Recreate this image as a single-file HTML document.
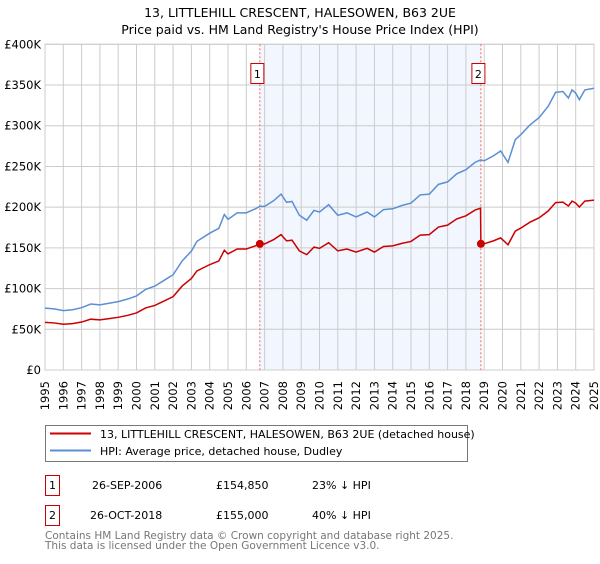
<!DOCTYPE html>
<html><head><meta charset="utf-8"><style>
body{margin:0;background:#fff;font-family:"DejaVu Sans","Liberation Sans",sans-serif;}
svg text{font-family:"DejaVu Sans","Liberation Sans",sans-serif;}
</style></head><body>
<svg id="c" width="600" height="560" viewBox="0 0 600 560">
<text x="300" y="17" text-anchor="middle" font-size="12.5">13, LITTLEHILL CRESCENT, HALESOWEN, B63 2UE</text>
<text x="300" y="34" text-anchor="middle" font-size="12.5">Price paid vs. HM Land Registry's House Price Index (HPI)</text>
<g id="plot"></g>
<g>
<rect x="45.5" y="425.5" width="422" height="36" fill="#fff" stroke="#777"/>
<line x1="50" y1="433.5" x2="91" y2="433.5" stroke="#cc0000" stroke-width="2"/>
<text x="100" y="438" font-size="11">13, LITTLEHILL CRESCENT, HALESOWEN, B63 2UE (detached house)</text>
<line x1="50" y1="450.5" x2="91" y2="450.5" stroke="#5b8fd4" stroke-width="2"/>
<text x="100" y="455" font-size="11">HPI: Average price, detached house, Dudley</text>
</g>
<g font-size="11">
<rect x="45.5" y="475.5" width="14" height="20" fill="none" stroke="#cc0000"/>
<text x="52.5" y="489" text-anchor="middle">1</text>
<text x="92" y="489">26-SEP-2006</text><text x="216" y="489">£154,850</text><text x="312" y="489">23% ↓ HPI</text>
<rect x="45.5" y="505.5" width="14" height="20" fill="none" stroke="#cc0000"/>
<text x="52.5" y="519" text-anchor="middle">2</text>
<text x="90" y="519">26-OCT-2018</text><text x="216" y="519">£155,000</text><text x="312" y="519">40% ↓ HPI</text>
</g>
<text x="45" y="539" font-size="10.5" fill="#777">Contains HM Land Registry data © Crown copyright and database right 2025.</text>
<text x="45" y="549" font-size="10.5" fill="#777">This data is licensed under the Open Government Licence v3.0.</text>
</svg>
<script>
const hpiT=[1995,1995.5,1996,1996.5,1997,1997.5,1998,1998.5,1999,1999.5,2000,2000.5,2001,2001.5,2002,2002.5,2003,2003.3,2004,2004.5,2004.8,2005,2005.5,2006,2006.5,2006.74,2007,2007.5,2007.9,2008.2,2008.5,2008.9,2009.3,2009.7,2010,2010.5,2011,2011.5,2012,2012.6,2013,2013.5,2014,2014.5,2015,2015.5,2016,2016.5,2017,2017.5,2018,2018.5,2018.8,2019,2019.5,2019.9,2020.3,2020.7,2021,2021.5,2022,2022.5,2022.9,2023.3,2023.6,2023.8,2024,2024.2,2024.5,2025];
const hpiV=[76,75,73,74,76.5,81,80,82,84,87,91,99,103,110,117,134,146,158,168,174,191,185,193,193,198,201,201,208,216,206,207,190,184,196,194,203,190,193,188,194,188,197,198,202,205,215,216,228,231,241,246,255,258,257,263,269,255,283,289,301,310,324,341,342,334,344,340,332,344,346];
const propT=[1995,1995.5,1996,1996.5,1997,1997.5,1998,1998.5,1999,1999.5,2000,2000.5,2001,2001.5,2002,2002.5,2003,2003.3,2004,2004.5,2004.8,2005,2005.5,2006,2006.5,2006.74,2007,2007.5,2007.9,2008.2,2008.5,2008.9,2009.3,2009.7,2010,2010.5,2011,2011.5,2012,2012.6,2013,2013.5,2014,2014.5,2015,2015.5,2016,2016.5,2017,2017.5,2018,2018.5,2018.8,2018.82,2019,2019.5,2019.9,2020.3,2020.7,2021,2021.5,2022,2022.5,2022.9,2023.3,2023.6,2023.8,2024,2024.2,2024.5,2025];
const propV=[58.5,57.8,56.2,57,58.9,62.4,61.6,63.1,64.7,67,70.1,76.2,79.3,84.7,90.1,103.2,112.4,121.7,129.4,134,147.1,142.5,148.6,148.6,152.5,154.85,154.8,160.2,166.3,158.6,159.4,146.3,141.7,150.9,149.4,156.3,146.3,148.6,144.8,149.4,144.8,151.7,152.5,155.5,157.9,165.6,166.3,175.6,177.9,185.6,189.4,196.4,198.7,155,155,158.6,162.2,153.8,170.6,174.3,181.5,186.9,195.4,205.6,206.2,201.4,207.4,205,200.2,207.4,208.6];
const saleT=[2006.74,2018.82];
const saleV=[154.85,155];
const saleLabels=["1","2"];
const yTicks=[0,50,100,150,200,250,300,350,400];
const yTickLabels=["£0","£50K","£100K","£150K","£200K","£250K","£300K","£350K","£400K"];
const xTicks=[1995,1996,1997,1998,1999,2000,2001,2002,2003,2004,2005,2006,2007,2008,2009,2010,2011,2012,2013,2014,2015,2016,2017,2018,2019,2020,2021,2022,2023,2024,2025];

const L=45,R=594,T=44.3,B=370;
const xs=t=>L+(t-1995)/30*(R-L);
const ys=v=>B-v/400*(B-T);
const NS="http://www.w3.org/2000/svg";
const g=document.getElementById('plot');
function mk(tag,attrs,parent){const e=document.createElementNS(NS,tag);for(const k in attrs)e.setAttribute(k,attrs[k]);(parent||g).appendChild(e);return e;}
let e=mk('rect',{x:xs(saleT[0]),y:T,width:xs(saleT[1])-xs(saleT[0]),height:B-T,fill:'#eef3fd',opacity:0.75});


yTicks.forEach((v,i)=>{
 let l=mk('line',{x1:L,x2:R,y1:ys(v),y2:ys(v),stroke:'#ccc','stroke-width':1});
 
 
 let t=mk('text',{x:L-4,y:ys(v)+4,'text-anchor':'end','font-size':11.5});
 t.textContent=yTickLabels[i];
 
 
});
xTicks.forEach(yr=>{
 let l=mk('line',{x1:xs(yr),x2:xs(yr),y1:T,y2:B,stroke:'#ccc','stroke-width':1});
 
 
 let t=mk('text',{x:0,y:0,'text-anchor':'end','font-size':11.5,transform:`translate(${xs(yr)+4},${381}) rotate(-90)`});
 t.textContent=yr;
 
 
});
e=mk('rect',{x:L,y:T,width:R-L,height:B-T,fill:'none',stroke:'#ccc'});


saleT.forEach((t,i)=>{
 let l=mk('line',{x1:xs(t),x2:xs(t),y1:T,y2:B,stroke:'#f06060','stroke-dasharray':'2,2','stroke-width':1});
 
 
 let r=mk('rect',{x:xs(t)-9,y:63.5,width:13,height:20,fill:'#fff',stroke:'#cc0000'});
 
 
 let tx=mk('text',{x:xs(t)-2.5,y:78,'text-anchor':'middle','font-size':11});
 tx.textContent=saleLabels[i];
 
 
});
e=mk('polyline',{points:hpiT.map((t,i)=>xs(t)+','+ys(hpiV[i])).join(' '),fill:'none',stroke:'#5b8fd4','stroke-width':1.5});


e=mk('polyline',{points:propT.map((t,i)=>xs(t)+','+ys(propV[i])).join(' '),fill:'none',stroke:'#cc0000','stroke-width':1.5});


saleT.forEach((t,i)=>{
 let c=mk('circle',{cx:xs(t),cy:ys(saleV[i]),r:4,fill:'#cc0000'});
 
 
});
</script>
</body></html>
